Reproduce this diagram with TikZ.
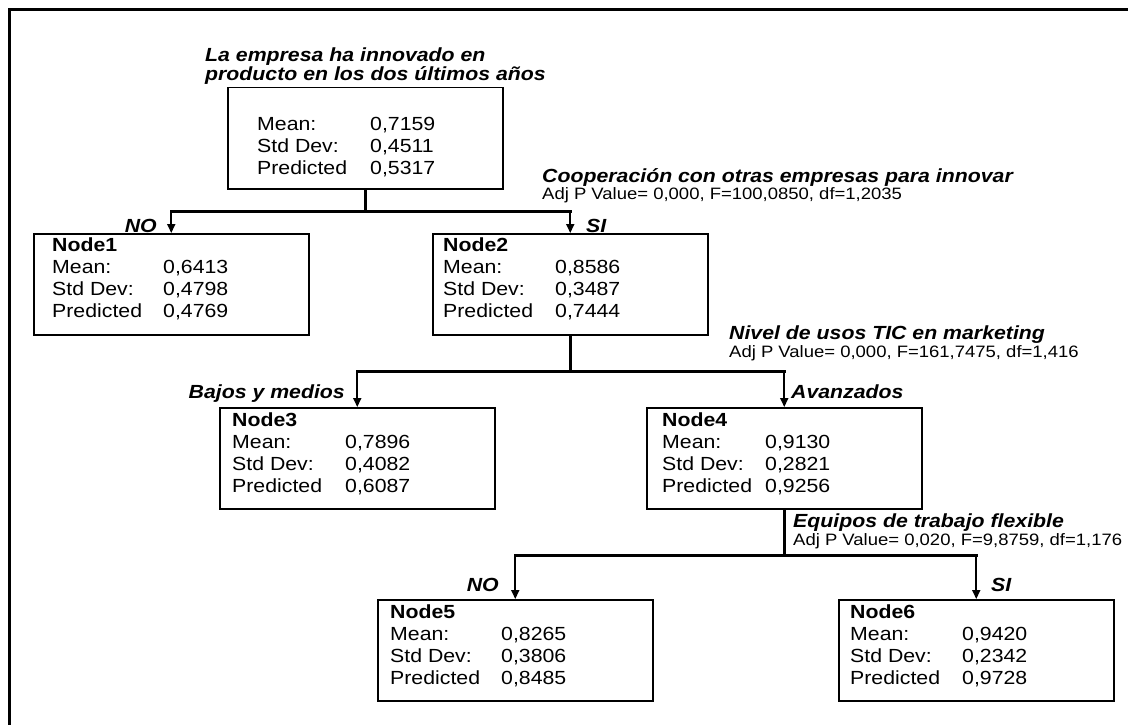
\documentclass[tikz,border=0pt]{standalone}
\usepackage{fontspec}
\setmainfont{Liberation Sans}[FakeStretch=1.12]
\usetikzlibrary{arrows.meta}
\tikzset{
  box/.style={draw, line width=1.5pt, minimum width=275pt, minimum height=101pt, inner sep=0pt, anchor=north west},
  tt/.style={inner sep=0pt, anchor=base west, font=\fontsize{19}{22}\selectfont},
  bt/.style={inner sep=0pt, anchor=base west, font=\fontsize{19}{22}\selectfont\bfseries},
  lab/.style={inner sep=0pt, anchor=base west, font=\fontsize{19}{22}\selectfont\bfseries\itshape},
  labr/.style={lab, anchor=base east},
  adj/.style={inner sep=0pt, anchor=base west, font=\fontsize{16.5}{18}\selectfont},
  trunk/.style={line width=3pt, line cap=rect},
  arr/.style={line width=2pt, -{Triangle[width=8pt,length=9pt]}},
  frameline/.style={line width=3pt}
}
% #1 prefix, #2 label x, #3 value x, #4 first baseline, #5 spacing, #6 mean, #7 sd, #8 pred
\newcommand\statrows[8]{%
  \node[tt] (#1a) at (#2,#4) {Mean:};
  \node[tt] (#1av) at (#3,#4) {#6};
  \node[tt] (#1b) at (#2,#4+#5) {Std Dev:};
  \node[tt] (#1bv) at (#3,#4+#5) {#7};
  \node[tt] (#1c) at (#2,#4+2*#5) {Predicted};
  \node[tt] (#1cv) at (#3,#4+2*#5) {#8};
}
\begin{document}
\begin{tikzpicture}[x=1pt,y=-1pt]
\useasboundingbox (0,0) rectangle (1128,725);
\draw[frameline] (9.5,725) -- (9.5,9.5) -- (1128,9.5);

% boxes
\node[box] (root) at (227,87) {};
\node[box] (n1) at (33,233) {};
\node[box] (n2) at (432,233) {};
\node[box] (n3) at (219,407) {};
\node[box] (n4) at (646,407) {};
\node[box] (n5) at (377,599) {};
\node[box] (n6) at (838,599) {};

% box contents
\statrows{r}{257}{370}{131}{21.5}{0,7159}{0,4511}{0,5317}
\node[bt] (n1h) at (52,251) {Node1};
\statrows{p}{52}{163}{273}{22}{0,6413}{0,4798}{0,4769}
\node[bt] (n2h) at (443,251) {Node2};
\statrows{q}{443}{555}{273}{22}{0,8586}{0,3487}{0,7444}
\node[bt] (n3h) at (232,426) {Node3};
\statrows{s}{232}{345}{448}{22}{0,7896}{0,4082}{0,6087}
\node[bt] (n4h) at (662,426) {Node4};
\statrows{u}{662}{765}{448}{22}{0,9130}{0,2821}{0,9256}
\node[bt] (n5h) at (390,618) {Node5};
\statrows{v}{390}{501}{640}{22}{0,8265}{0,3806}{0,8485}
\node[bt] (n6h) at (850,618) {Node6};
\statrows{w}{850}{962}{640}{22}{0,9420}{0,2342}{0,9728}

% split titles
\node[lab] (t0a) at (205,62) {La empresa ha innovado en};
\node[lab] (t0b) at (205,81) {producto en los dos últimos años};
\node[lab] (t1) at (542,182) {Cooperación con otras empresas para innovar};
\node[adj] (a1) at (542,199) {Adj P Value= 0,000, F=100,0850, df=1,2035};
\node[lab] (t2) at (729,339) {Nivel de usos TIC en marketing};
\node[adj] (a2) at (729,357) {Adj P Value= 0,000, F=161,7475, df=1,416};
\node[lab] (t3) at (793,527) {Equipos de trabajo flexible};
\node[adj] (a3) at (793,545) {Adj P Value= 0,020, F=9,8759, df=1,176};

% branch labels
\node[labr] (noA) at (157,232) {NO};
\node[lab] (siA) at (586,232) {SI};
\node[labr] (bm) at (345,398) {Bajos y medios};
\node[lab] (av) at (791,398) {Avanzados};
\node[labr] (noB) at (499,591) {NO};
\node[lab] (siB) at (991,591) {SI};

% connectors
\path (root.south) ++(0,22) coordinate (j0);
\draw[trunk] (root.south) -- (j0);
\draw[trunk] (n1.north |- j0) -- (n2.north |- j0);
\draw[arr] (n1.north |- j0) -- (n1.north);
\draw[arr] (n2.north |- j0) -- (n2.north);

\path (n2.south) ++(0,36) coordinate (j1);
\draw[trunk] (n2.south) -- (j1);
\draw[trunk] (n3.north |- j1) -- (n4.north |- j1);
\draw[arr] (n3.north |- j1) -- (n3.north);
\draw[arr] (n4.north |- j1) -- (n4.north);

\path (n4.south) ++(0,46) coordinate (j2);
\draw[trunk] (n4.south) -- (j2);
\draw[trunk] (n5.north |- j2) -- (n6.north |- j2);
\draw[arr] (n5.north |- j2) -- (n5.north);
\draw[arr] (n6.north |- j2) -- (n6.north);
\end{tikzpicture}
\end{document}
